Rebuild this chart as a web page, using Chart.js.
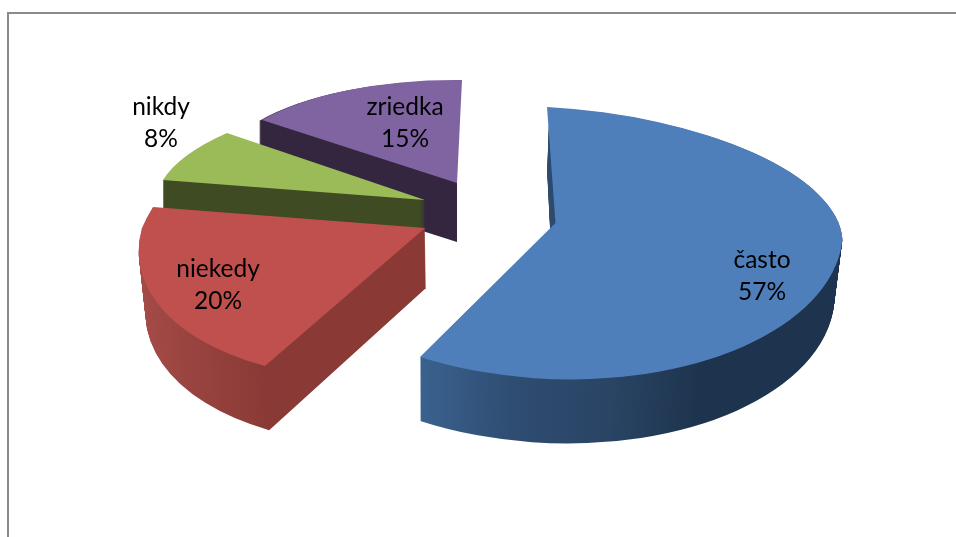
<!DOCTYPE html>
<html><head><meta charset="utf-8">
<style>html,body{margin:0;padding:0;background:#fff;overflow:hidden}
#frame{position:absolute;left:7px;top:12px;width:949px;height:525px;border-left:2px solid #8a8a8a;border-top:2px solid #8a8a8a;box-sizing:border-box}
#c{position:absolute;left:0;top:0;display:block}</style>
<script src="https://cdn.jsdelivr.net/npm/chart.js@4"></script></head>
<body><div id="frame"></div><canvas id="c" width="956" height="537" style="width:956px;height:537px"></canvas>
<script>
const categories = ['často','niekedy','nikdy','zriedka'];
const values = [57,20,8,15];
const topColors = ['#4f7fbb','#c0504d','#9bbb59','#8064a2'];
// view of each exploded wedge: apex on screen, unit-circle x axis, y axis above / below the centre line
const views = [
 {apex:[555.5,223], ax:[287,16], up:[8.5,116], wallUp:[6,116], down:[-14.7,155.6], drop:[-2.5,64], sx:.98, sy:1},
 {apex:[425,228], ax:[283,0], up:[-70,167.6], down:[-43.7,152.5], drop:[1,60], sx:.98, sy:1.03},
 {apex:[425,200], ax:[268.2,7], up:[-32.2,104.4], down:[-32.2,104.4], drop:[0,60], sx:1, sy:1},
 {apex:[457,183], ax:[244.6,3.1], up:[-5,103], wallUp:[0,103], down:[-5,103], drop:[0,59], sx:1, sy:1}
];
const wallStops = [
 [[-.47,'#3b6592'],[-.1,'#2f4d72'],[.25,'#294464'],[.55,'#1e344e'],[1,'#1e344e']],
 [[-1,'#a64c48'],[-.43,'#8a3a36'],[1,'#8a3935']],
 [[-1,'#3f4b23'],[1,'#3f4b23']],
 [[-1,'#35263f'],[1,'#35263f']]
];
const labelAt = [[762,276],[218,285],[161,123],[405,123]];
const drawOrder = [3,2,1,0];

function drawPiece(ctx,arc,v,col2,lerp,fill,half){
  const R=arc.outerRadius, ox=v.drop[0]*lerp, oy=v.drop[1]*lerp;
  const kx=1+(v.sx-1)*lerp, ky=1+(v.sy-1)*lerp;
  ctx.save();
  ctx.translate(v.apex[0]+ox,v.apex[1]+oy);
  ctx.transform(v.ax[0]*kx/R,v.ax[1]*ky/R,col2[0]*kx/R,col2[1]*ky/R,0,0);
  ctx.translate(-arc.x,-arc.y);
  if(half){
    ctx.beginPath();
    if(half<0) ctx.rect(arc.x-R-2,arc.y-R-2,2*R+4,R+3.5);
    else ctx.rect(arc.x-R-2,arc.y,2*R+4,R+2);
    ctx.clip();
  }
  const p=Object.create(arc);
  p.options=Object.assign({},arc.options,{backgroundColor:fill,borderWidth:0});
  p.draw(ctx);
  ctx.restore();
}
function drawWedge(ctx,arc,v,lerp,fill){
  const up=(lerp>0&&v.wallUp)?v.wallUp:v.up;
  if(up[0]===v.down[0]) drawPiece(ctx,arc,v,up,lerp,fill,0);
  else {drawPiece(ctx,arc,v,up,lerp,fill,-1);drawPiece(ctx,arc,v,v.down,lerp,fill,1);}
}
const view3d={id:'view3d',
  beforeDatasetDraw(chart){
    const ctx=chart.ctx, arcs=chart.getDatasetMeta(0).data;
    drawOrder.forEach(i=>{
      const arc=arcs[i], v=views[i], R=arc.outerRadius;
      const g=ctx.createLinearGradient(arc.x-R,0,arc.x+R,0);
      wallStops[i].forEach(s=>g.addColorStop((s[0]+1)/2,s[1]));
      if(wallStops[i][0][0]>-1) g.addColorStop(0,wallStops[i][0][1]);
      const n=Math.ceil(v.drop[1]);
      for(let k=n;k>0;k--) drawWedge(ctx,arc,v,k/n,g);
      drawWedge(ctx,arc,v,0,topColors[i]);
    });
    return false;
  },
  afterDraw(chart){
    const ctx=chart.ctx;
    ctx.save();
    ctx.fillStyle='#000';ctx.textAlign='center';ctx.textBaseline='middle';
    ctx.font='24.5px Lato, Carlito, sans-serif';
    categories.forEach((c,i)=>{
      ctx.fillText(c,labelAt[i][0],labelAt[i][1]-16);
      ctx.fillText(values[i]+'%',labelAt[i][0],labelAt[i][1]+16);
    });
    ctx.restore();
  }
};
new Chart(document.getElementById('c'),{
  type:'pie',
  data:{labels:categories,datasets:[{data:values,backgroundColor:topColors,borderWidth:0}]},
  options:{responsive:false,animation:false,events:[],
    plugins:{legend:{display:false},tooltip:{enabled:false}}},
  plugins:[view3d]
});
</script>
</body></html>
